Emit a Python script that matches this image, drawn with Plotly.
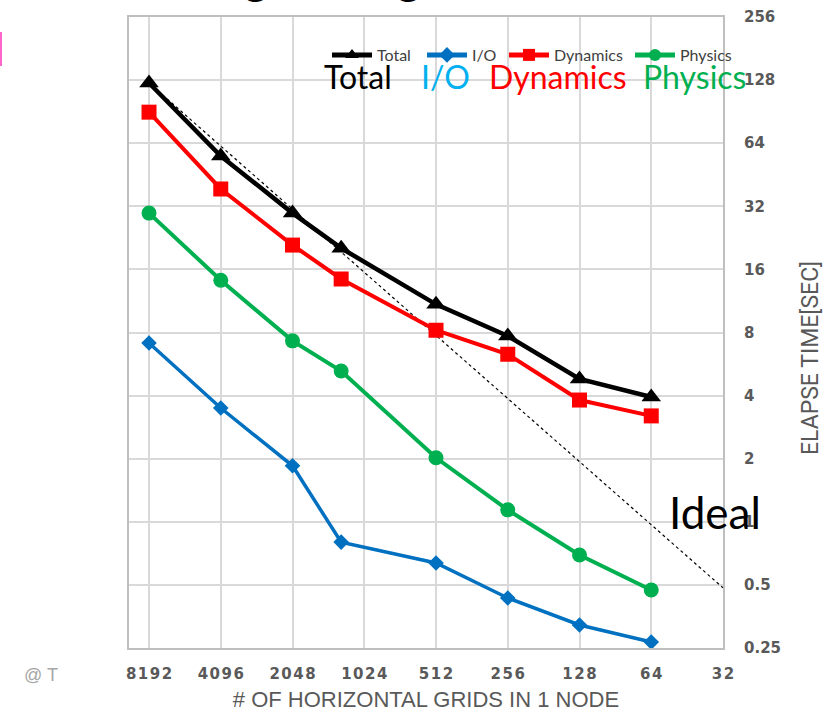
import math
import plotly.graph_objects as go

# ---------------- data ----------------
grids = [8192, 4096, 2048, 1280, 512, 256, 128, 64]
total = [124, 55.6, 29.7, 20.2, 10.9, 7.7, 4.8, 3.94]
io = [7.13, 3.49, 1.85, 0.80, 0.636, 0.433, 0.322, 0.267]
dynamics = [90, 38.7, 20.9, 14.4, 8.2, 6.3, 3.81, 3.2]
physics = [29.7, 14.2, 7.3, 5.24, 2.02, 1.14, 0.694, 0.473]
ideal_x = [8192, 32]
ideal_y = [124, 0.484]

x_ticks = [8192, 4096, 2048, 1024, 512, 256, 128, 64, 32]
y_ticks = [0.25, 0.5, 1, 2, 4, 8, 16, 32, 64, 128, 256]
y_tick_labels = ["0.25", "0.5", "1", "2", "4", "8", "16", "32", "64", "128", "256"]

# ---------------- layout geometry ----------------
W, H = 830, 717
L, R, T, B = 129, 723, 17, 648


def px(x):
    return (x - L) / (R - L)


def py(y):
    return (B - y) / (B - T)


GRAY = "#595959"
fig = go.Figure()

fig.add_trace(go.Scatter(
    x=ideal_x, y=ideal_y, mode="lines", showlegend=False,
    line=dict(color="black", width=1.2, dash="3px,3px"), hoverinfo="skip"))

series = [
    ("I/O", io, "#0070C0", "diamond", 12, 3.5, "legend2"),
    ("Physics", physics, "#00B050", "circle", 15, 4, "legend4"),
    ("Dynamics", dynamics, "#FF0000", "square", 15, 4, "legend3"),
    ("Total", total, "#000000", "triangle-up", 17, 4.5, "legend"),
]
for name, vals, col, sym, msz, lw, lg in series:
    fig.add_trace(go.Scatter(
        x=grids, y=vals, name=name, mode="lines+markers",
        line=dict(color=col, width=lw),
        marker=dict(symbol=sym, size=msz, color=col),
        legend=lg))

tick_fmt = lambda v: "\u200a".join(str(v))

fig.update_xaxes(
    type="log", range=[math.log10(2 ** 13.279), math.log10(32)],
    tickvals=x_ticks, ticktext=[tick_fmt(v) for v in x_ticks],
    tickfont=dict(family="DejaVu Sans", size=15, color=GRAY, weight="bold"),
    showgrid=True, gridcolor="#D9D9D9", gridwidth=2,
    showline=True, linecolor="#BFBFBF", linewidth=2, mirror=True,
    ticks="", ticklabelstandoff=11, zeroline=False,
    title=dict(text="# OF HORIZONTAL GRIDS IN 1 NODE",
               font=dict(family="Liberation Sans", size=22, color=GRAY),
               standoff=10),
)
fig.update_yaxes(
    type="log", range=[math.log10(0.25), math.log10(256)], side="right",
    tickvals=y_ticks, ticktext=y_tick_labels,
    tickfont=dict(family="DejaVu Sans", size=15, color=GRAY, weight="bold"),
    showgrid=True, gridcolor="#D9D9D9", gridwidth=2,
    showline=True, linecolor="#BFBFBF", linewidth=2, mirror=True,
    ticks="", ticklabelstandoff=16, zeroline=False,
)

leg_common = dict(orientation="h", bgcolor="rgba(0,0,0,0)", yanchor="middle",
                  xanchor="left", itemsizing="constant", itemwidth=40,
                  font=dict(family="Lato", size=16, color="#404040"))
fig.update_layout(
    width=W, height=H,
    margin=dict(l=L, r=W - R, t=T, b=H - B, autoexpand=False),
    paper_bgcolor="white", plot_bgcolor="white",
    legend=dict(x=px(327), y=py(55), **leg_common),
    legend2=dict(x=px(422), y=py(55), **leg_common),
    legend3=dict(x=px(504), y=py(55), **leg_common),
    legend4=dict(x=px(630), y=py(55), **leg_common),
)

big = [
    ("Total", 358, 77, "black", 32),
    ("I/O", 445, 77, "#00B0F0", 32),
    ("Dynamics", 558, 77, "#FF0000", 32),
    ("Physics", 694, 77, "#00B050", 32),
    ("Ideal", 715, 512, "black", 44),
]
for txt, x, y, col, sz in big:
    fig.add_annotation(text=txt, xref="paper", yref="paper", x=px(x), y=py(y),
                       xanchor="center", yanchor="middle", showarrow=False,
                       font=dict(family="Lato", size=sz, color=col))

# y-axis title
fig.add_annotation(text="ELAPSE TIME[SEC]", xref="paper", yref="paper",
                   x=px(810), y=py(358), textangle=-90, showarrow=False,
                   xanchor="center", yanchor="middle",
                   font=dict(family="Roboto", size=23, color=GRAY))

# partially visible slide title (cut off by the top edge)
fig.add_annotation(text="Strong Scaling", xref="paper", yref="paper",
                   x=px(278), y=py(6), xanchor="center", yanchor="bottom",
                   showarrow=False, font=dict(family="Lato", size=46, color="black"))

# footer fragment
fig.add_annotation(text="@ T", xref="paper", yref="paper", x=px(22), y=py(675),
                   xanchor="left", yanchor="middle", showarrow=False,
                   font=dict(family="Liberation Sans", size=18, color="#A6A6A6"))

# magenta fragment at left edge
fig.add_shape(type="rect", xref="paper", yref="paper",
              x0=px(0), x1=px(2), y0=py(66), y1=py(32),
              fillcolor="#FF66CC", line=dict(width=0))

fig.write_html("out.html")
